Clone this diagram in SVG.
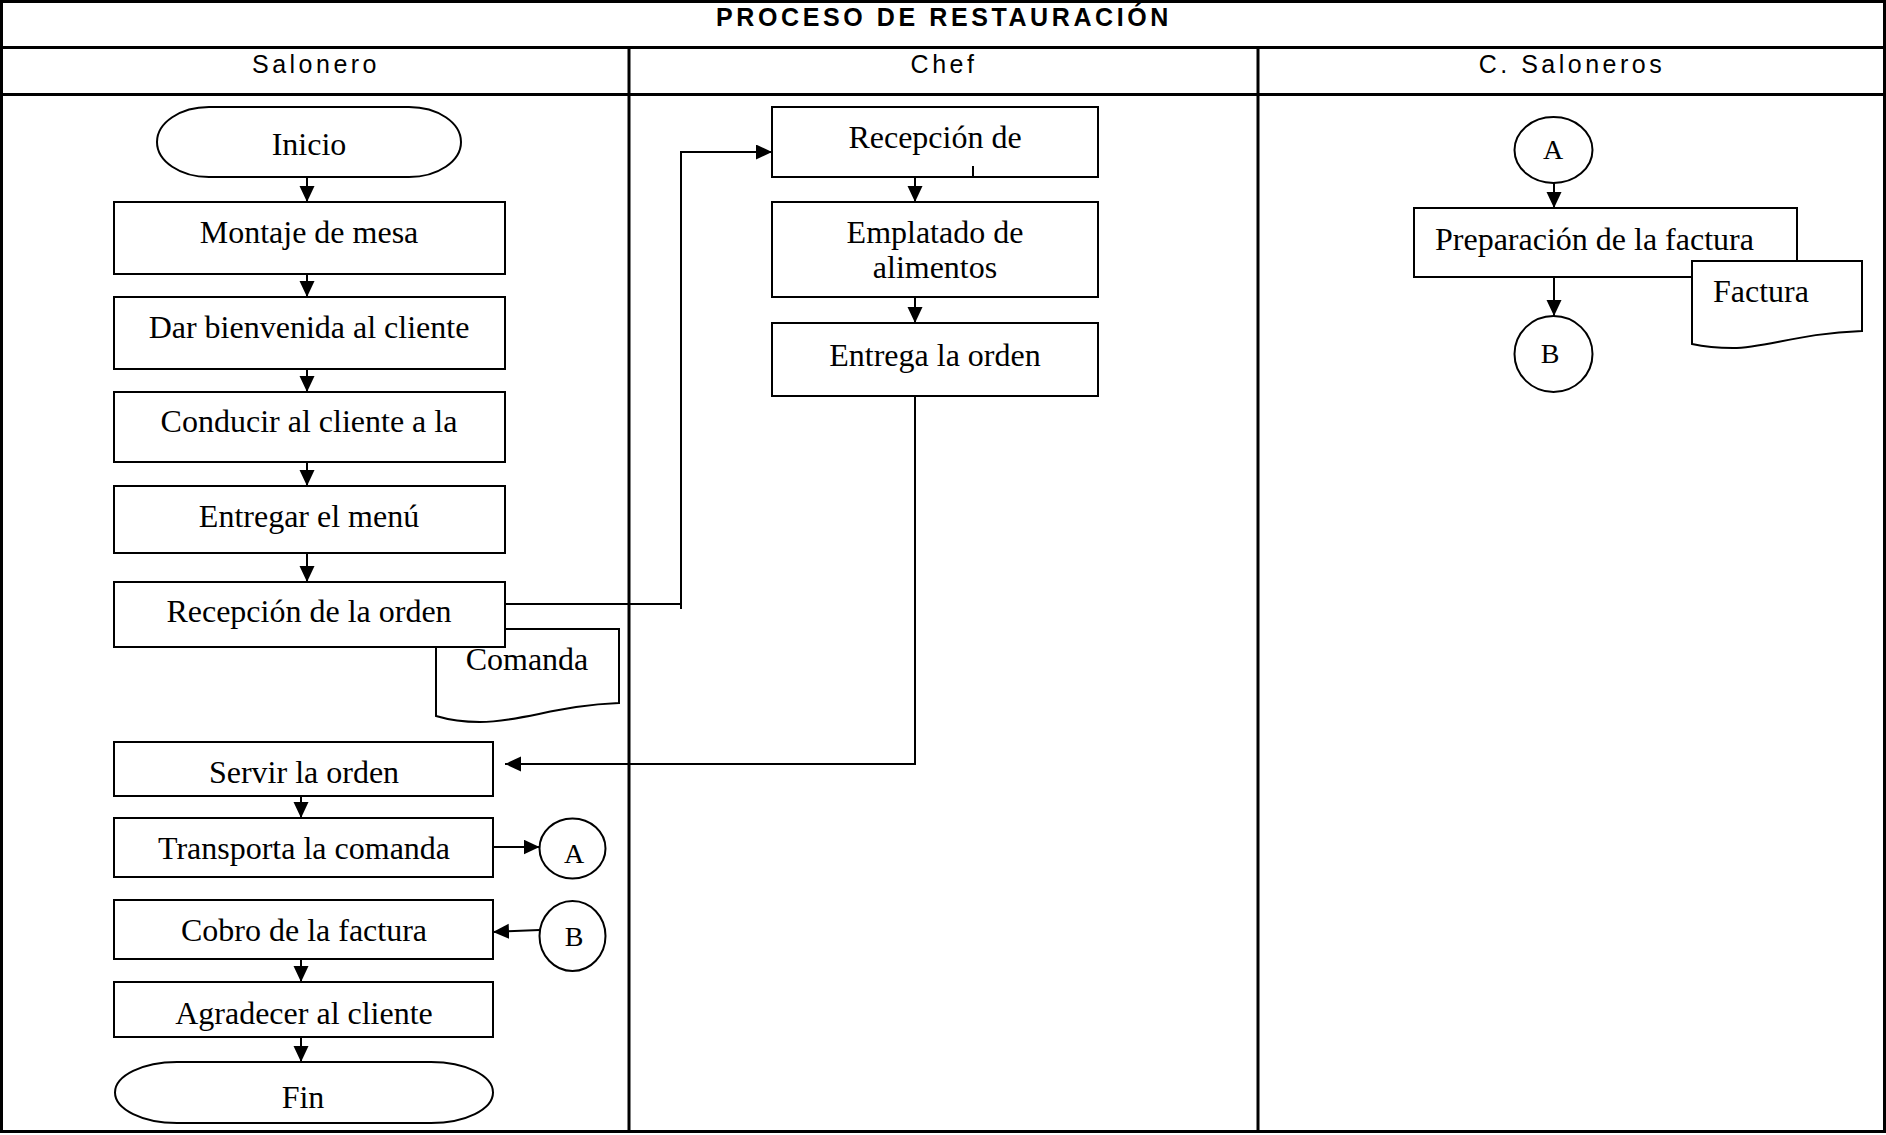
<svg xmlns="http://www.w3.org/2000/svg" width="1886" height="1135" viewBox="0 0 1886 1135">
  <style>
    .grid { fill: none; stroke: #000; stroke-width: 3; }
    .box { fill: #fff; stroke: #000; stroke-width: 2; }
    .conn { fill: none; stroke: #000; stroke-width: 2; marker-end: url(#arrow); }
    .line { fill: none; stroke: #000; stroke-width: 2; }
    .lbl { font-family: "Liberation Serif", "Times New Roman", serif; font-size: 32px; fill: #000; text-anchor: middle; }
    .lbl-l { font-family: "Liberation Serif", "Times New Roman", serif; font-size: 32px; fill: #000; }
    .ref { font-family: "Liberation Serif", "Times New Roman", serif; font-size: 28px; fill: #000; text-anchor: middle; }
    .title { font-family: "Liberation Sans", Arial, sans-serif; font-size: 25px; font-weight: bold; letter-spacing: 3.6px; text-anchor: middle; fill: #000; }
    .lane { font-family: "Liberation Sans", Arial, sans-serif; font-size: 25px; letter-spacing: 3.5px; text-anchor: middle; fill: #000; }
  </style>
  <defs>
    <marker id="arrow" markerUnits="userSpaceOnUse" markerWidth="16" markerHeight="16" refX="16" refY="7.5" orient="auto">
      <path d="M0,0 L16,7.5 L0,15 Z" fill="#000"/>
    </marker>
  </defs>

  <rect width="1886" height="1135" fill="#fff"/>

  <!-- swimlane table -->
  <g id="table">
    <rect class="grid" x="1.5" y="1.5" width="1883" height="1130"/>
    <line class="grid" x1="0" y1="47.5" x2="1886" y2="47.5"/>
    <line class="grid" x1="0" y1="94.5" x2="1886" y2="94.5"/>
    <line class="grid" x1="629" y1="47" x2="629" y2="1132"/>
    <line class="grid" x1="1258" y1="47" x2="1258" y2="1132"/>
    <text class="title" x="944" y="26">PROCESO DE RESTAURACIÓN</text>
    <text class="lane" x="316" y="73">Salonero</text>
    <text class="lane" x="944" y="73">Chef</text>
    <text class="lane" x="1572" y="73">C. Saloneros</text>
  </g>

  <!-- Salonero lane -->
  <g id="inicio">
    <rect class="box" x="157" y="107" width="304" height="70" rx="52" ry="35"/>
    <text class="lbl" x="309" y="155">Inicio</text>
  </g>
  <g id="montaje">
    <rect class="box" x="114" y="202" width="391" height="72"/>
    <text class="lbl" x="309" y="243">Montaje de mesa</text>
  </g>
  <g id="bienvenida">
    <rect class="box" x="114" y="297" width="391" height="72"/>
    <text class="lbl" x="309" y="338">Dar bienvenida al cliente</text>
  </g>
  <g id="conducir">
    <rect class="box" x="114" y="392" width="391" height="70"/>
    <text class="lbl" x="309" y="432">Conducir al cliente a la</text>
  </g>
  <g id="menu">
    <rect class="box" x="114" y="486" width="391" height="67"/>
    <text class="lbl" x="309" y="527">Entregar el menú</text>
  </g>
  <g id="comanda">
    <path class="box" d="M436,629 H619 V703 C560,705 520,722 480,722 C460,722 446,719 436,716 Z"/>
    <text class="lbl" x="527" y="670">Comanda</text>
  </g>
  <g id="recepcion-orden">
    <rect class="box" x="114" y="582" width="391" height="65"/>
    <text class="lbl" x="309" y="622">Recepción de la orden</text>
  </g>
  <g id="servir">
    <rect class="box" x="114" y="742" width="379" height="54"/>
    <text class="lbl" x="304" y="783">Servir la orden</text>
  </g>
  <g id="transporta">
    <rect class="box" x="114" y="818" width="379" height="59"/>
    <text class="lbl" x="304" y="859">Transporta la comanda</text>
  </g>
  <g id="conector-a-salida">
    <ellipse class="box" cx="572.5" cy="848.5" rx="33" ry="30"/>
    <text class="ref" x="574" y="863">A</text>
  </g>
  <g id="cobro">
    <rect class="box" x="114" y="900" width="379" height="59"/>
    <text class="lbl" x="304" y="941">Cobro de la factura</text>
  </g>
  <g id="conector-b-entrada">
    <ellipse class="box" cx="572.5" cy="936" rx="33" ry="35"/>
    <text class="ref" x="574" y="946">B</text>
  </g>
  <g id="agradecer">
    <rect class="box" x="114" y="982" width="379" height="55"/>
    <text class="lbl" x="304" y="1024">Agradecer al cliente</text>
  </g>
  <g id="fin">
    <rect class="box" x="115" y="1062" width="378" height="61" rx="62" ry="30.5"/>
    <text class="lbl" x="303" y="1108">Fin</text>
  </g>

  <!-- Chef lane -->
  <g id="recepcion-chef">
    <rect class="box" x="772" y="107" width="326" height="70"/>
    <text class="lbl" x="935" y="148">Recepción de</text>
    <path class="line" d="M973,166 V176"/>
  </g>
  <g id="emplatado">
    <rect class="box" x="772" y="202" width="326" height="95"/>
    <text class="lbl" x="935" y="243">Emplatado de</text>
    <text class="lbl" x="935" y="278">alimentos</text>
  </g>
  <g id="entrega">
    <rect class="box" x="772" y="323" width="326" height="73"/>
    <text class="lbl" x="935" y="366">Entrega la orden</text>
  </g>

  <!-- C. Saloneros lane -->
  <g id="conector-a-entrada">
    <ellipse class="box" cx="1553.5" cy="150" rx="39" ry="33"/>
    <text class="ref" x="1553" y="159">A</text>
  </g>
  <g id="preparacion">
    <rect class="box" x="1414" y="208" width="383" height="69"/>
    <text class="lbl-l" x="1435" y="250">Preparación de la factura</text>
  </g>
  <g id="factura">
    <path class="box" d="M1692,261 H1862 V331 C1800,333 1765,348 1733,348 C1715,348 1701,346 1692,344 Z"/>
    <text class="lbl-l" x="1713" y="302">Factura</text>
  </g>
  <g id="conector-b-salida">
    <ellipse class="box" cx="1553.5" cy="354" rx="39" ry="38"/>
    <text class="ref" x="1550" y="363">B</text>
  </g>

  <!-- connectors -->
  <g id="connectors">
    <path class="conn" d="M307,177 V202"/>
    <path class="conn" d="M307,274 V297"/>
    <path class="conn" d="M307,369 V392"/>
    <path class="conn" d="M307,462 V486"/>
    <path class="conn" d="M307,553 V582"/>
    <path class="line" d="M505,604 H681"/>
    <path class="conn" d="M681,609 V152 H772"/>
    <path class="conn" d="M915,177 V202"/>
    <path class="conn" d="M915,297 V323"/>
    <path class="conn" d="M915,396 V764 H505"/>
    <path class="conn" d="M301,796 V818"/>
    <path class="conn" d="M493,847 H539.5"/>
    <path class="conn" d="M539.5,930 L493,932"/>
    <path class="conn" d="M301,959 V982"/>
    <path class="conn" d="M301,1037 V1062"/>
    <path class="conn" d="M1554,183 V208"/>
    <path class="conn" d="M1554,277 V316"/>
  </g>
</svg>
